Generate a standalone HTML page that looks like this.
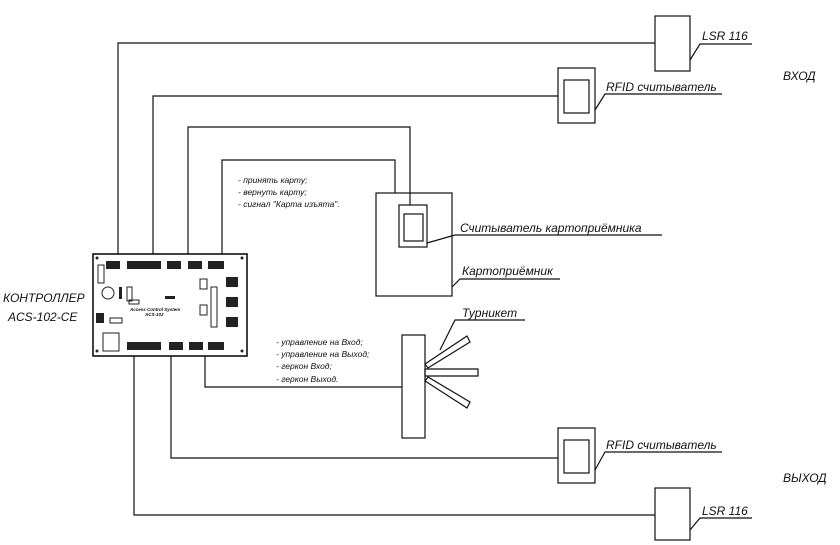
<!DOCTYPE html>
<html><head><meta charset="utf-8"><style>
html,body{margin:0;padding:0;background:#fff;}
svg{display:block}
text{font-family:"Liberation Sans","DejaVu Sans",sans-serif;font-style:italic;fill:#111}
</style></head><body>
<svg width="840" height="545" viewBox="0 0 840 545" xmlns="http://www.w3.org/2000/svg">
<g fill="none" stroke="#111" stroke-width="1.2">
<!-- top wires -->
<polyline points="118,254 118,43 655,43"/>
<polyline points="153,254 153,96 558,96"/>
<polyline points="188,254 188,127 410,127 410,205"/>
<polyline points="222,254 222,160 395,160 395,193"/>
<!-- bottom wires -->
<polyline points="134,356 134,515 655,515"/>
<polyline points="171,356 171,458 558,458"/>
<polyline points="205,356 205,387 402,387"/>
<!-- LSR top -->
<rect x="655" y="16" width="35" height="55"/>
<polyline points="690,60 700,44 752,44"/>
<!-- RFID top -->
<rect x="558" y="68" width="37" height="55"/>
<rect x="564" y="80" width="25" height="33"/>
<polyline points="595,110 605,94 722,94"/>
<!-- card acceptor -->
<rect x="376" y="193" width="76" height="103"/>
<rect x="399" y="205" width="28" height="42"/>
<rect x="404" y="214" width="19" height="27"/>
<polyline points="427,243 455,235 662,235"/>
<polyline points="452,287 460,279 560,279"/>
<!-- turnstile -->
<rect x="402" y="335" width="23" height="103"/>
<polygon points="425,364 467,336 470,342 428,368"/>
<polygon points="425,369 478,369 478,376 425,376"/>
<polygon points="428,377 470,402 467,408 425,381"/>
<polyline points="440,350 455,320 525,320"/>
<!-- RFID bottom -->
<rect x="558" y="428" width="37" height="55"/>
<rect x="564" y="440" width="25" height="33"/>
<polyline points="595,470 605,452 722,452"/>
<!-- LSR bottom -->
<rect x="655" y="488" width="35" height="52"/>
<polyline points="690,530 700,518 752,518"/>
<!-- controller board -->
<rect x="93" y="254" width="154" height="102" stroke-width="1.6"/>
</g>
<!-- board details -->
<g fill="#222">
<rect x="98" y="265" width="6" height="18" fill="none" stroke="#222"/>
<rect x="106" y="261" width="14" height="8"/>
<rect x="127" y="261" width="34" height="8"/>
<rect x="167" y="261" width="14" height="8"/>
<rect x="188" y="261" width="14" height="8"/>
<rect x="208" y="261" width="16" height="8"/>
<rect x="226" y="277" width="12" height="10"/>
<rect x="226" y="297" width="12" height="10"/>
<rect x="226" y="317" width="12" height="10"/>
<rect x="127" y="342" width="34" height="8"/>
<rect x="169" y="342" width="14" height="8"/>
<rect x="189" y="342" width="14" height="8"/>
<rect x="208" y="342" width="16" height="8"/>
<rect x="165" y="296" width="10" height="3"/>
<rect x="96" y="313" width="8" height="10"/>
<rect x="119" y="287" width="3" height="12"/>
<circle cx="97" cy="258" r="1.5"/><circle cx="242" cy="258" r="1.5"/>
<circle cx="97" cy="351" r="1.5"/><circle cx="242" cy="351" r="1.5"/>
</g>
<g fill="none" stroke="#222" stroke-width="1">
<circle cx="108" cy="293" r="6"/>
<rect x="127" y="287" width="5" height="14"/>
<rect x="129" y="300" width="10" height="4"/>
<rect x="200" y="279" width="7" height="10"/>
<rect x="211" y="287" width="6" height="40"/>
<rect x="200" y="305" width="7" height="10"/>
<rect x="103" y="333" width="16" height="18"/>
<rect x="110" y="318" width="12" height="5"/>
</g>
<text x="130" y="311" font-size="4.5" font-weight="bold">Access Control System</text>
<text x="145" y="316" font-size="4.5" font-weight="bold">ACS-102</text>
<!-- labels -->
<g font-size="12">
<text x="702" y="40">LSR 116</text>
<text x="783" y="80">ВХОД</text>
<text x="606" y="91">RFID считыватель</text>
<text x="460" y="232">Считыватель картоприёмника</text>
<text x="462" y="275">Картоприёмник</text>
<text x="462" y="317">Турникет</text>
<text x="606" y="449">RFID считыватель</text>
<text x="783" y="482">ВЫХОД</text>
<text x="702" y="515">LSR 116</text>
<text x="3" y="302">КОНТРОЛЛЕР</text>
<text x="8" y="321">ACS-102-CE</text>
</g>
<g font-size="8.5">
<text x="238" y="183">- принять карту;</text>
<text x="238" y="195">- вернуть карту;</text>
<text x="238" y="207">- сигнал "Карта изъята".</text>
<text x="276" y="345">- управление на Вход;</text>
<text x="276" y="357">- управление на Выход;</text>
<text x="276" y="369">- геркон Вход;</text>
<text x="276" y="382">- геркон Выход.</text>
</g>
</svg>
</body></html>
